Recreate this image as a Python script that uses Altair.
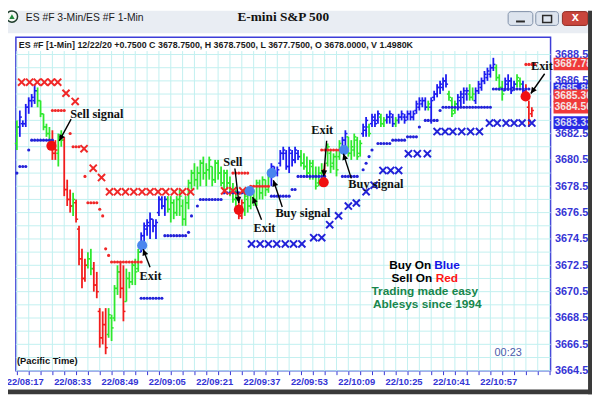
import altair as alt
import pandas as pd

SANS = "Liberation Sans"
SERIF = "Liberation Serif"

# ---------------- 1-minute OHLC bars (bar index = minute, 08:14 = 0) ----------------
HIGHS = [
    3683.5, 3684.25, 3683.5, 3684.75, 3685.25, 3685.5, 3686.25, 3686.0, 3685.0, 3684.0,
    3683.25, 3683.0, 3682.75, 3682.0, 3682.5, 3682.75, 3682.25, 3679.0, 3678.25, 3678.0,
    3677.5, 3675.5, 3673.75, 3673.0, 3673.5, 3673.75, 3672.75, 3672.0, 3669.25, 3669.0,
    3669.25, 3669.25, 3668.75, 3671.0, 3672.5, 3672.75, 3672.5, 3672.25, 3672.0, 3672.75,
    3673.0, 3673.75, 3675.0, 3675.75, 3676.0, 3676.5, 3676.0, 3676.0, 3677.75, 3677.75,
    3677.75, 3677.75, 3677.75, 3677.5, 3677.75, 3678.25, 3677.5, 3677.75, 3679.0, 3679.75,
    3680.25, 3680.0, 3680.5, 3680.75, 3680.25, 3680.75, 3680.0, 3680.5, 3680.5, 3680.0,
    3679.75, 3679.75, 3679.25, 3678.75, 3678.25, 3677.75, 3677.5, 3678.25, 3678.25, 3678.5,
    3678.25, 3679.0, 3679.0, 3679.25, 3679.0, 3679.75, 3680.25, 3680.0, 3680.0, 3681.25,
    3681.5, 3681.25, 3681.5, 3681.25, 3681.5, 3681.25, 3681.25, 3681.0, 3680.75, 3680.5,
    3680.5, 3680.0, 3680.0, 3680.25, 3680.25, 3681.75, 3681.25, 3681.0, 3681.25, 3682.0,
    3682.25, 3682.75, 3682.25, 3682.0, 3682.5, 3682.25, 3682.0, 3683.25, 3683.75, 3683.25,
    3684.0, 3684.0, 3684.25, 3684.0, 3683.75, 3684.0, 3684.25, 3684.0, 3683.75, 3684.0,
    3684.25, 3684.0, 3684.25, 3684.25, 3684.25, 3685.0, 3685.25, 3685.25, 3685.25, 3685.0,
    3685.25, 3685.75, 3686.25, 3686.5, 3686.75, 3687.0, 3685.75, 3685.25, 3685.0, 3685.5,
    3685.75, 3686.0, 3686.0, 3686.25, 3686.0, 3686.0, 3686.5, 3686.75, 3687.25, 3687.5,
    3687.75, 3688.25, 3687.75, 3687.0, 3686.5, 3686.75, 3687.0, 3686.75, 3686.5, 3687.0,
    3686.75, 3686.5, 3686.25, 3685.0, 3684.5,
]
LOWS = [
    3681.25, 3682.25, 3683.0, 3683.0, 3684.0, 3684.5, 3684.75, 3684.5, 3683.75, 3682.75,
    3682.25, 3681.75, 3680.5, 3680.5, 3680.0, 3681.5, 3677.75, 3677.0, 3676.5, 3676.25,
    3675.75, 3672.5, 3670.75, 3671.25, 3672.25, 3671.75, 3670.5, 3670.0, 3666.25, 3666.5,
    3665.75, 3667.0, 3666.75, 3668.25, 3670.25, 3670.0, 3668.25, 3669.75, 3670.75, 3671.0,
    3671.0, 3672.0, 3673.5, 3674.25, 3674.75, 3674.5, 3675.0, 3674.5, 3676.25, 3676.75,
    3676.25, 3676.5, 3675.75, 3676.0, 3676.25, 3676.25, 3675.5, 3675.5, 3676.75, 3678.25,
    3678.5, 3678.25, 3678.5, 3679.0, 3678.5, 3679.0, 3678.5, 3678.75, 3679.0, 3678.5,
    3678.0, 3678.25, 3677.75, 3677.25, 3676.75, 3676.0, 3676.0, 3676.25, 3676.5, 3676.75,
    3677.0, 3677.0, 3677.5, 3677.5, 3677.75, 3678.0, 3678.5, 3679.25, 3679.25, 3680.0,
    3680.5, 3679.75, 3679.5, 3680.0, 3680.25, 3680.5, 3680.0, 3679.75, 3679.25, 3679.0,
    3679.0, 3678.25, 3678.5, 3678.5, 3678.75, 3680.0, 3679.5, 3679.75, 3679.25, 3680.5,
    3681.0, 3681.5, 3680.75, 3680.5, 3680.75, 3680.5, 3680.75, 3682.25, 3682.25, 3682.25,
    3683.0, 3683.0, 3683.25, 3683.0, 3683.0, 3683.25, 3683.25, 3683.0, 3683.0, 3683.25,
    3683.5, 3683.25, 3683.5, 3683.5, 3683.5, 3684.0, 3684.25, 3684.5, 3684.25, 3684.25,
    3683.25, 3685.0, 3685.25, 3685.5, 3685.75, 3686.0, 3685.0, 3683.75, 3684.0, 3684.25,
    3684.5, 3684.75, 3685.0, 3685.0, 3685.0, 3684.75, 3685.5, 3685.75, 3686.25, 3686.5,
    3686.75, 3687.25, 3686.5, 3685.75, 3685.0, 3685.75, 3685.75, 3685.5, 3685.75, 3686.0,
    3686.0, 3685.5, 3685.25, 3683.0, 3683.75,
]
OPENS = [
    3681.75, 3683.0, 3683.25, 3683.25, 3684.5, 3685.0, 3685.0, 3685.75, 3685.0, 3684.0,
    3683.0, 3682.5, 3682.0, 3681.0, 3681.0, 3682.25, 3682.0, 3678.25, 3677.5, 3677.0,
    3677.25, 3675.25, 3673.0, 3671.5, 3672.5, 3673.0, 3672.25, 3671.0, 3669.0, 3667.0,
    3668.0, 3667.25, 3668.5, 3668.5, 3670.75, 3672.0, 3670.75, 3669.75, 3671.5, 3671.25,
    3672.5, 3672.25, 3673.5, 3674.75, 3675.25, 3675.5, 3676.0, 3675.5, 3676.5, 3677.5,
    3677.0, 3677.5, 3676.75, 3677.25, 3676.5, 3677.5, 3677.0, 3676.0, 3677.25, 3678.75,
    3679.5, 3679.0, 3679.5, 3680.25, 3679.5, 3679.75, 3680.0, 3679.0, 3680.25, 3679.5,
    3678.75, 3679.5, 3678.75, 3678.0, 3677.5, 3677.0, 3676.25, 3677.25, 3677.5, 3677.0,
    3678.0, 3677.5, 3678.5, 3678.0, 3679.0, 3678.25, 3679.5, 3680.0, 3679.5, 3680.25,
    3681.0, 3681.0, 3680.0, 3681.0, 3680.5, 3681.0, 3680.75, 3680.25, 3680.0, 3679.5,
    3680.0, 3679.25, 3678.75, 3679.5, 3679.75, 3680.25, 3681.0, 3680.25, 3680.75, 3680.75,
    3681.25, 3682.0, 3682.25, 3681.0, 3681.25, 3682.0, 3681.0, 3682.5, 3682.75, 3683.0,
    3683.25, 3683.5, 3683.5, 3683.75, 3683.25, 3683.5, 3683.75, 3683.75, 3683.25, 3683.5,
    3683.75, 3683.75, 3683.75, 3684.0, 3683.75, 3684.25, 3684.5, 3684.75, 3685.0, 3684.5,
    3684.5, 3685.25, 3685.5, 3686.0, 3686.0, 3686.5, 3685.5, 3685.0, 3684.25, 3684.75,
    3685.0, 3685.25, 3685.5, 3685.5, 3685.25, 3685.0, 3685.75, 3686.0, 3686.5, 3686.75,
    3687.0, 3687.5, 3687.5, 3686.75, 3686.0, 3685.75, 3686.25, 3686.5, 3686.0, 3686.25,
    3686.5, 3686.25, 3685.75, 3684.5, 3684.0,
]
CLOSES = [
    3683.0, 3683.75, 3683.25, 3684.5, 3685.0, 3685.25, 3685.75, 3685.0, 3684.0, 3683.0,
    3682.5, 3682.0, 3681.0, 3681.25, 3682.25, 3682.0, 3678.25, 3677.5, 3677.0, 3677.5,
    3676.0, 3673.0, 3671.5, 3672.5, 3673.0, 3672.25, 3671.0, 3670.5, 3667.0, 3668.0,
    3666.25, 3668.75, 3667.75, 3670.75, 3672.0, 3670.75, 3669.0, 3671.5, 3671.25, 3672.5,
    3672.0, 3673.5, 3674.75, 3675.5, 3675.75, 3676.0, 3675.5, 3675.75, 3677.5, 3677.0,
    3677.5, 3676.75, 3677.25, 3676.5, 3677.5, 3677.75, 3676.0, 3677.25, 3678.75, 3679.5,
    3679.0, 3679.5, 3680.25, 3679.5, 3679.75, 3680.5, 3679.0, 3680.25, 3679.5, 3678.75,
    3679.5, 3678.75, 3678.0, 3677.5, 3677.0, 3676.25, 3677.25, 3677.75, 3677.0, 3678.25,
    3677.5, 3678.75, 3678.0, 3679.0, 3678.25, 3679.5, 3680.0, 3679.5, 3679.75, 3681.0,
    3681.25, 3680.0, 3681.25, 3680.5, 3681.25, 3680.75, 3680.25, 3680.0, 3679.5, 3680.25,
    3679.25, 3678.5, 3679.5, 3679.0, 3679.0, 3681.5, 3680.0, 3680.75, 3679.75, 3681.75,
    3682.0, 3682.5, 3681.0, 3681.5, 3682.25, 3680.75, 3681.75, 3683.0, 3683.5, 3682.5,
    3683.75, 3683.25, 3684.0, 3683.25, 3683.5, 3683.75, 3684.0, 3683.25, 3683.5, 3683.75,
    3684.0, 3683.5, 3684.0, 3683.75, 3684.0, 3684.75, 3685.0, 3685.0, 3684.5, 3684.75,
    3685.0, 3685.5, 3686.0, 3686.25, 3686.5, 3686.25, 3685.25, 3684.0, 3684.75, 3685.25,
    3685.5, 3685.75, 3685.75, 3685.25, 3685.5, 3685.75, 3686.25, 3686.5, 3687.0, 3687.25,
    3687.5, 3687.75, 3686.75, 3686.0, 3685.5, 3686.5, 3686.5, 3685.75, 3686.25, 3686.75,
    3686.25, 3685.75, 3685.5, 3683.5, 3684.25,
]
# b = blue (long trend), g = green (neutral), r = red (short trend)
BAR_COLORS = list(
    "g" "bbbbbb" "ggggg" "rr" "gg" "rrr" "g" "rrrr" "gg" "rrrrr" "gggg" "rr" "ggggg"
    "bbbbbbbbb" "gggggggggggggggggggggggg" "rr" "ggggggggg" "bbbbbbbbbb" "gggggggg"
    "r" "ggggg" "bb" "ggggg" "bb" "g" "bbb" "gg" "bbb" "g" "bbbbbbbbbb" "g" "bbbbbb"
    "ggg" "bbbb" "gg" "bbbbbbb" "ggg" "bbbb" "gg" "b" "rrr"
)
BAR_I = list(range(len(HIGHS)))

# ---------------- trailing stop dots ----------------
RED_DOT_I = [12, 13, 14, 15, 16, 18, 19, 20, 21, 23, 24, 25, 26, 27, 28, 29, 30, 31,
             32, 33, 34, 35, 36, 37, 38, 39, 40, 41, 42,
             73, 74, 75, 76, 77, 78,
             79, 80, 81, 82, 83, 84, 85,
             103, 104, 105, 106, 107, 108, 109, 110,
             172, 173, 174, 175]
RED_DOT_P = [3684.25, 3684.25, 3684.25, 3684.25, 3684.25, 3682.5, 3681.5, 3681.5, 3681.5,
             3679.25, 3677.25, 3677.25, 3677.25, 3677.25, 3676.75, 3676.25, 3673.75, 3673.25,
             3672.75, 3672.75, 3672.75, 3672.75, 3672.75, 3672.75, 3672.75, 3672.75, 3672.75,
             3672.75, 3672.75,
             3679.5, 3679.5, 3679.5, 3679.5, 3679.5, 3679.5,
             3678.5, 3678.5, 3678.5, 3678.5, 3678.5, 3678.5, 3678.5,
             3681.25, 3681.25, 3681.25, 3681.25, 3681.25, 3681.25, 3681.25, 3681.25,
             3687.75, 3687.75, 3687.75, 3687.75]
BLUE_DOT_I = [0, 1, 2, 3, 4, 5, 6, 7, 8, 9, 10, 11, 12,
              42, 43, 44, 45, 46, 47, 48, 49,
              50, 51, 52, 53, 54, 55, 56, 57, 58, 59, 61,
              62, 63, 64, 65, 66, 67, 68, 69,
              70, 71, 72, 73, 74, 75, 76, 77, 78,
              86, 87, 88, 89, 90, 91, 92, 93, 94,
              95, 96, 97, 98, 99, 100, 101, 102, 103, 104,
              110, 111, 112, 113, 114, 115, 117, 118, 119, 120,
              122, 123, 124, 125, 126, 127, 128, 129, 130, 131,
              132, 133, 134, 135, 136, 138, 139, 140, 141, 142, 143,
              144, 145, 146, 147, 148, 149, 150, 151, 152, 153, 154, 155, 156, 157, 158, 159, 160,
              161, 162, 163, 164, 165, 166, 167, 168, 169, 170, 171, 172, 173]
BLUE_DOT_P = [3679.5, 3680.0, 3680.0, 3680.0, 3681.25, 3682.0, 3682.0, 3682.0, 3682.0,
              3682.0, 3682.0, 3682.0, 3682.0,
              3670.0, 3670.0, 3670.0, 3670.0, 3670.0, 3670.0, 3670.0, 3670.0,
              3674.75, 3674.75, 3674.75, 3674.75, 3674.75, 3674.75, 3674.75, 3674.75,
              3675.0, 3676.25, 3677.0,
              3677.5, 3677.5, 3677.5, 3677.5, 3677.5, 3677.5, 3677.5, 3677.5,
              3678.0, 3678.0, 3678.0, 3678.0, 3678.0, 3678.0, 3678.0, 3678.0, 3678.0,
              3677.75, 3677.75, 3677.75, 3677.75, 3677.75, 3677.75, 3677.75, 3678.25, 3678.25,
              3679.25, 3679.25, 3679.25, 3679.25, 3679.25, 3679.25, 3679.25, 3679.25, 3679.25,
              3679.25,
              3679.25, 3679.25, 3679.25, 3679.25, 3679.25, 3679.25, 3679.75, 3680.25, 3680.75,
              3681.25,
              3681.75, 3681.75, 3681.75, 3681.75, 3681.75, 3682.0, 3682.0, 3682.0, 3682.0, 3682.0,
              3682.25, 3682.25, 3682.25, 3682.25, 3683.0, 3683.5, 3683.5, 3683.5, 3683.5, 3683.5,
              3684.25,
              3684.5, 3684.5, 3684.5, 3684.5, 3684.5, 3684.5, 3684.5, 3684.5, 3684.5, 3684.5,
              3684.5, 3684.5, 3684.5, 3684.5, 3684.5, 3684.5, 3684.5,
              3685.88, 3685.88, 3685.88, 3685.88, 3685.88, 3685.88, 3685.88, 3685.88, 3685.88,
              3685.88, 3685.88, 3685.88, 3685.88]

# ---------------- 3-minute stop crosses ----------------
RED_X_I = [1.6, 4.3, 6.9, 9.3, 11.6, 13.8, 16.6, 19.7, 22.7, 25.8, 28.6,
           31.3, 34.0, 36.7, 39.5, 42.3, 45.0, 47.7, 50.3, 53.2, 56.0, 58.7,
           70.2, 73.0, 76.3]
RED_X_P = [3686.4, 3686.4, 3686.4, 3686.4, 3686.4, 3686.4, 3685.56, 3684.94, 3681.35,
           3679.87, 3679.16,
           3678.08, 3678.08, 3678.08, 3678.08, 3678.08, 3678.08, 3678.08, 3678.08, 3678.08,
           3678.08, 3678.08,
           3678.15, 3678.15, 3678.15]
BLUE_X_I = [79.3, 82.2, 85.0, 87.8, 90.7, 93.5, 96.3, 100.3, 103.0, 105.7, 108.7, 112.0,
            114.7, 118.0, 120.7, 123.7, 126.3, 129.0, 132.3, 135.3, 138.7,
            142.0, 144.7, 147.3, 150.3, 153.3, 156.3,
            159.7, 162.3, 165.3, 168.0, 170.7, 174.0]
BLUE_X_P = [3674.12, 3674.12, 3674.12, 3674.12, 3674.12, 3674.12, 3674.12, 3674.6, 3674.6,
            3675.58, 3676.26, 3677.0, 3677.23, 3678.09, 3678.58, 3679.7, 3679.7, 3679.7,
            3680.97, 3680.97, 3680.97,
            3682.65, 3682.65, 3682.65, 3682.65, 3682.65, 3682.65,
            3683.3, 3683.3, 3683.3, 3683.3, 3683.3, 3683.3]

# ---------------- signals ----------------
SIG_RED_I = [11.67, 75.0, 103.67, 171.9]
SIG_RED_P = [3681.57, 3676.71, 3678.8, 3685.32]
SIG_BLUE_I = [42.33, 78.67, 86.1, 110.57]
SIG_BLUE_P = [3674.01, 3678.13, 3679.5, 3681.25]

NOTE_TEXT = ["Sell signal", "Exit", "Sell", "Exit", "Buy signal", "Exit", "Buy signal", "Exit"]
NOTE_I = [27.0, 45.17, 73.0, 83.67, 96.67, 103.17, 121.33, 177.4]
NOTE_P = [3683.97, 3671.69, 3680.3, 3675.36, 3676.48, 3682.75, 3678.65, 3687.64]

ARROW_I1 = [18.33, 45.0, 73.67, 82.67, 89.67, 104.67, 113.0, 178.33]
ARROW_P1 = [3683.59, 3672.36, 3679.85, 3675.96, 3676.93, 3681.95, 3679.1, 3687.04]
ARROW_I2 = [14.33, 42.67, 75.0, 79.67, 86.67, 103.67, 110.33, 173.67]
ARROW_P2 = [3681.95, 3673.71, 3677.23, 3677.68, 3678.95, 3679.25, 3680.97, 3685.54]
ARROW_ANGLE = [208.6, 338.7, 173.5, 338.6, 341.6, 184.8, 342.3, 215.0]

LEG_RIGHT_TEXT = ["Buy On", "Sell On"]
LEG_RIGHT_I = [140.0, 140.33]
LEG_LEFT_TEXT = ["Blue", "Red"]
LEG_LEFT_I = [141.0, 141.5]
LEG_LEFT_COLOR = ["#1414e6", "#ff1414"]
LEG_P = [3672.51, 3671.54]
LEG_CENTER_TEXT = ["Trading made easy", "Ablesys since 1994"]
LEG_CENTER_I = [137.83, 138.67]
LEG_CENTER_P = [3670.57, 3669.59]

TAG_BLUE_P = [3685.88, 3683.33]
TAG_BLUE_TEXT = ["3685.88", "3683.33"]
TAG_RED_P = [3687.78, 3685.36, 3684.50]
TAG_RED_TEXT = ["3687.78", "3685.36", "3684.50"]

TIME_LABELS = ["22/08:17", "22/08:33", "22/08:49", "22/09:05", "22/09:21", "22/09:37",
               "22/09:53", "22/10:09", "22/10:25", "22/10:41", "22/10:57"]
X_TICKS = list(range(0, 181, 4))
Y_TICKS = [3664.5 + k for k in range(26)]

HEADER = ("ES #F [1-Min] 12/22/20  +0.7500 C 3678.7500, H 3678.7500, L 3677.7500, "
          "O 3678.0000, V 1.4980K")

# ---------------- styling ----------------
BAR_BLUE, BAR_GREEN, BAR_RED = "#1c1cf0", "#2ee82e", "#f21c1c"
DOT_BLUE, DOT_RED = "#2222d8", "#f02828"
SIG_BLUE_C, SIG_RED_C = "#4a86ee", "#f01010"
AXBLUE = "#3535d5"
GRID = "#c2f0f0"
FRAME = "#3d3dd8"

XS = alt.Scale(domain=[-0.333, 180.333], nice=False, zero=False)
YS = alt.Scale(domain=[3664.5, 3689.81], nice=False, zero=False)

arr = "[" + ",".join("'%s'" % t for t in TIME_LABELS) + "]"
X_AXIS = alt.Axis(
    values=X_TICKS, grid=False, domain=False,
    ticks=True, tickColor=AXBLUE, tickSize=4, tickWidth=1,
    labelExpr="datum.value %% 16 === 0 && datum.value / 16 < %d ? %s[datum.value / 16] : ''"
              % (len(TIME_LABELS), arr),
    labelOffset=8, labelFlush=False, labelOverlap=False, labelColor=AXBLUE,
    labelFont=SANS, labelFontSize=9.5, labelFontWeight="bold", labelPadding=2, title=None)
Y_AXIS = alt.Axis(
    orient="right", values=Y_TICKS, grid=False, domain=False,
    ticks=False, labelPadding=4,
    labelExpr="(datum.value - 3664.5) % 2 === 0 ? format(datum.value, '.1f') : ''",
    labelFlush=False, labelOverlap=False, labelColor=AXBLUE, labelFont=SANS,
    labelFontSize=11, labelFontWeight="bold", title=None)


def X(f):
    return alt.X(f, type="quantitative", scale=XS, axis=X_AXIS)


def Y(f):
    return alt.Y(f, type="quantitative", scale=YS, axis=Y_AXIS)


DUMMY = pd.DataFrame({"d": [0]})

bars_df = pd.DataFrame({"i": BAR_I, "o": OPENS, "h": HIGHS, "l": LOWS, "c": CLOSES,
                        "col": BAR_COLORS})
col_enc = alt.Color("col:N", scale=alt.Scale(domain=["b", "g", "r"],
                                             range=[BAR_BLUE, BAR_GREEN, BAR_RED]),
                    legend=None)

layers = []

# grid lines (drawn through the scales)
layers.append(alt.Chart(pd.DataFrame({"v": X_TICKS})).mark_rule(
    color=GRID, strokeWidth=1).encode(x=X("v"), y=alt.value(14), y2=alt.value(338)))
layers.append(alt.Chart(pd.DataFrame({"v": Y_TICKS})).transform_filter(
    "datum.v < 3688.9").mark_rule(color=GRID, strokeWidth=1).encode(
    y=Y("v"), x=alt.value(0), x2=alt.value(542)))

# OHLC bars
layers.append(alt.Chart(bars_df).mark_rule(strokeWidth=1.8).encode(
    x=X("i"), y=Y("l"), y2="h:Q", color=col_enc))
layers.append(alt.Chart(bars_df).transform_calculate(xo="datum.i - 0.7").mark_rule(
    strokeWidth=1.5).encode(x=X("xo"), x2="i:Q", y=Y("o"), color=col_enc))
layers.append(alt.Chart(bars_df).transform_calculate(xc="datum.i + 0.7").mark_rule(
    strokeWidth=1.5).encode(x=X("i"), x2="xc:Q", y=Y("c"), color=col_enc))

# stop dots
layers.append(alt.Chart(pd.DataFrame({"i": BLUE_DOT_I, "p": BLUE_DOT_P})).mark_circle(
    size=10, color=DOT_BLUE, opacity=1).encode(x=X("i"), y=Y("p")))
layers.append(alt.Chart(pd.DataFrame({"i": RED_DOT_I, "p": RED_DOT_P})).mark_circle(
    size=10, color=DOT_RED, opacity=1).encode(x=X("i"), y=Y("p")))

# crosses
XSHAPE = "M-1,-1L1,1M-1,1L1,-1"
layers.append(alt.Chart(pd.DataFrame({"i": RED_X_I, "p": RED_X_P})).mark_point(
    shape=XSHAPE, size=52, filled=False, color=DOT_RED, strokeWidth=2, opacity=1).encode(
    x=X("i"), y=Y("p")))
layers.append(alt.Chart(pd.DataFrame({"i": BLUE_X_I, "p": BLUE_X_P})).mark_point(
    shape=XSHAPE, size=52, filled=False, color=DOT_BLUE, strokeWidth=2, opacity=1).encode(
    x=X("i"), y=Y("p")))

# signal circles
layers.append(alt.Chart(pd.DataFrame({"i": SIG_RED_I, "p": SIG_RED_P})).mark_circle(
    size=105, color=SIG_RED_C, opacity=1).encode(x=X("i"), y=Y("p")))
layers.append(alt.Chart(pd.DataFrame({"i": SIG_BLUE_I, "p": SIG_BLUE_P})).mark_circle(
    size=105, color=SIG_BLUE_C, opacity=1).encode(x=X("i"), y=Y("p")))

# arrows
arrows_df = pd.DataFrame({"i1": ARROW_I1, "p1": ARROW_P1, "i2": ARROW_I2, "p2": ARROW_P2,
                          "ang": ARROW_ANGLE})
layers.append(alt.Chart(arrows_df).mark_rule(color="black", strokeWidth=1.4).encode(
    x=X("i1"), y=Y("p1"), x2="i2:Q", y2="p2:Q"))
layers.append(alt.Chart(arrows_df).mark_point(
    shape="M0,0L-0.5,1L0.5,1Z", size=150, filled=True, color="black", opacity=1).encode(
    x=X("i2"), y=Y("p2"), angle=alt.Angle("ang:Q", scale=None)))

# annotations
layers.append(alt.Chart(pd.DataFrame({"t": NOTE_TEXT, "i": NOTE_I, "p": NOTE_P})).mark_text(
    font=SERIF, fontSize=12.5, fontWeight="bold", color="#111111", baseline="middle").encode(
    x=X("i"), y=Y("p"), text="t:N"))

# legend text block
layers.append(alt.Chart(pd.DataFrame({"t": LEG_RIGHT_TEXT, "i": LEG_RIGHT_I, "p": LEG_P}))
              .mark_text(font=SANS, fontSize=12, fontWeight="bold", color="black",
                         align="right", baseline="middle")
              .encode(x=X("i"), y=Y("p"), text="t:N"))
layers.append(alt.Chart(pd.DataFrame({"t": LEG_LEFT_TEXT, "i": LEG_LEFT_I, "p": LEG_P,
                                      "c": LEG_LEFT_COLOR}))
              .mark_text(font=SANS, fontSize=12, fontWeight="bold", align="left",
                         baseline="middle")
              .encode(x=X("i"), y=Y("p"), text="t:N", color=alt.Color("c:N", scale=None)))
layers.append(alt.Chart(pd.DataFrame({"t": LEG_CENTER_TEXT, "i": LEG_CENTER_I,
                                      "p": LEG_CENTER_P}))
              .mark_text(font=SANS, fontSize=12, fontWeight="bold", color="#17864c",
                         align="center", baseline="middle")
              .encode(x=X("i"), y=Y("p"), text="t:N"))

# price tags on the right axis
blue_tags = pd.DataFrame({"p": TAG_BLUE_P, "t": TAG_BLUE_TEXT})
red_tags = pd.DataFrame({"p": TAG_RED_P, "t": TAG_RED_TEXT})
layers.append(alt.Chart(blue_tags).transform_calculate(
    top="datum.p + 0.48", bot="datum.p - 0.48").mark_rect(color="#2a2ae6").encode(
    x=alt.value(545), x2=alt.value(583), y=Y("top"), y2="bot:Q"))
layers.append(alt.Chart(blue_tags).mark_text(
    font=SANS, fontSize=10.5, fontWeight="bold", color="#d9dcf2", align="left",
    baseline="middle").encode(x=alt.value(546), y=Y("p"), text="t:N"))
layers.append(alt.Chart(red_tags).transform_calculate(
    top="datum.p + 0.48", bot="datum.p - 0.48").mark_rect(color="#f03a3a").encode(
    x=alt.value(545), x2=alt.value(583), y=Y("top"), y2="bot:Q"))
layers.append(alt.Chart(red_tags).mark_text(
    font=SANS, fontSize=10.5, fontWeight="bold", color="#f4e4e4", align="left",
    baseline="middle").encode(x=alt.value(546), y=Y("p"), text="t:N"))


# ---------------- window chrome ----------------
def ptext(txt, x, y, **kw):
    return alt.Chart(DUMMY).mark_text(text=txt, **kw).encode(x=alt.value(x), y=alt.value(y))


def prect(x, x2, y, y2, **kw):
    return alt.Chart(DUMMY).mark_rect(**kw).encode(
        x=alt.value(x), x2=alt.value(x2), y=alt.value(y), y2=alt.value(y2))


layers.append(ptext(HEADER, 3, 8, font=SANS, fontSize=9, fontWeight="bold",
                    color="#1a1a1a", align="left", baseline="middle"))
layers.append(ptext("(Pacific Time)", 1, 328, font=SANS, fontSize=9.5, fontWeight="bold",
                    color="#111111", align="left", baseline="middle"))
layers.append(ptext("00:23", 499, 320, font=SANS, fontSize=11, color="#4b5bab",
                    align="center", baseline="middle"))

layers.append(prect(-8, 584, -27, -4, color="#e9edf3"))
layers.append(alt.Chart(DUMMY).mark_point(shape="circle", size=130, filled=True,
                                          fill="#f4f8f4", stroke="#1d3b2a",
                                          strokeWidth=1.5, opacity=1).encode(
    x=alt.value(-4), y=alt.value(-21)))
layers.append(alt.Chart(DUMMY).mark_point(shape="triangle-up", size=30, filled=True,
                                          color="#1f8a3c", opacity=1).encode(
    x=alt.value(-4), y=alt.value(-21)))
layers.append(ptext("ES #F 3-Min/ES #F 1-Min", 10, -19, font=SANS, fontSize=10.5,
                    color="#1b1b1b", align="left", baseline="middle"))
layers.append(ptext("E-mini S&P 500", 271, -20, font=SERIF, fontSize=13.5,
                    fontWeight="bold", color="#111111", align="center", baseline="middle"))
layers.append(prect(499, 524, -26, -12, fill="#dde4ee", stroke="#7f8fa8", strokeWidth=1,
                    cornerRadius=3))
layers.append(prect(507, 516, -17, -15, color="#2a2a2a"))
layers.append(prect(527, 550, -26, -12, fill="#dde4ee", stroke="#7f8fa8", strokeWidth=1,
                    cornerRadius=3))
layers.append(prect(534, 543, -22, -15, fillOpacity=0, stroke="#2a2a2a", strokeWidth=1.5))
layers.append(prect(554, 580, -26, -12, fill="#c9463d", stroke="#8d2a22", strokeWidth=1,
                    cornerRadius=3))
layers.append(ptext("x", 567, -20, font=SANS, fontSize=13, fontWeight="bold",
                    color="white", align="center", baseline="middle"))
layers.append(prect(580, 584, -27, 362, color="#3a3a3a"))
layers.append(prect(-8, 584, 357, 362, color="#3a3a3a"))

chart = alt.layer(*layers).properties(
    width=542, height=338,
    padding={"left": 8, "top": 27, "right": 42, "bottom": 24},
    autosize=alt.AutoSizeParams(type="none"),
    background="white",
).configure_view(stroke=FRAME, strokeWidth=1.5)

chart.save("out.html", embed_options={"renderer": "svg", "actions": False})
